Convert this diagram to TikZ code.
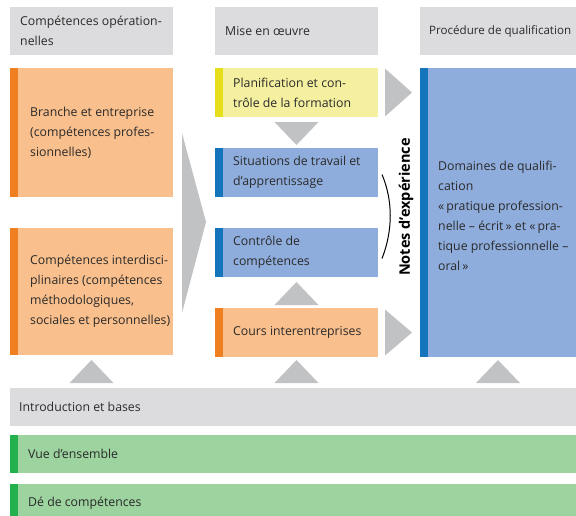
\documentclass[tikz,border=0pt]{standalone}
\usepackage{fontspec}
\setmainfont{Open Sans}
\usetikzlibrary{fit}
\definecolor{hdrgray}{HTML}{DCDCDE}
\definecolor{peach}{HTML}{F9BF8C}
\definecolor{orangeacc}{HTML}{F07F22}
\definecolor{yellowfill}{HTML}{F4F0A0}
\definecolor{yellowacc}{HTML}{E5DE19}
\definecolor{bluefill}{HTML}{8FADDC}
\definecolor{blueacc}{HTML}{1475BC}
\definecolor{greenfill}{HTML}{9DD39E}
\definecolor{greenacc}{HTML}{22B14C}
\definecolor{arrowgray}{HTML}{C1C2C4}
\definecolor{txt}{HTML}{2A2A2A}
\tikzset{
  box/.style={draw=none, fill=#1, inner sep=0pt, outer sep=0pt},
  lbl/.style={anchor=west, align=left, inner sep=0pt, text=txt, font=\fontsize{12.3}{20}\selectfont},
  tri/.style={fill=arrowgray},
}
\begin{document}
\begin{tikzpicture}[x=1pt,y=-1pt]
\useasboundingbox (0,0) rectangle (576,515);
% headers
\node[box=hdrgray, fit={(10,7) (173,55)}] (hL) {};
\node[box=hdrgray, fit={(215,7) (378,55)}] (hM) {};
\node[box=hdrgray, fit={(420,7) (576,55)}] (hR) {};
\node[lbl] (thL) at ([xshift=10pt]hL.west) {Compétences opération-\\nelles};
\node[lbl] (thM) at ([xshift=10pt]hM.west) {Mise en œuvre};
\node[lbl, font=\fontsize{11.6}{20}\selectfont] (thR) at ([xshift=9pt]hR.west) {Procédure de qualification};
% left column
\node[box=peach, fit={(10,68) (173,197)}] (oA) {};
\node[box=peach, fit={(10,228) (173,355)}] (oB) {};
\fill[orangeacc] (oA.north west) rectangle ([xshift=8pt]oA.south west);
\fill[orangeacc] (oB.north west) rectangle ([xshift=8pt]oB.south west);
\node[lbl] (toA) at ([xshift=20pt]oA.west) {Branche et entreprise\\(compétences profes-\\sionnelles)};
\node[lbl] (toB) at ([xshift=20pt]oB.west) {Compétences interdisci-\\plinaires (compétences\\méthodologiques,\\sociales et personnelles)};
% middle column
\node[box=yellowfill, fit={(215,68) (378,117)}] (plan) {};
\node[box=bluefill, fit={(215,148) (378,197)}] (sit) {};
\node[box=bluefill, fit={(215,228) (378,277)}] (ctl) {};
\node[box=peach, fit={(215,308) (378,357)}] (cours) {};
\fill[yellowacc] (plan.north west) rectangle ([xshift=8pt]plan.south west);
\fill[blueacc] (sit.north west) rectangle ([xshift=8pt]sit.south west);
\fill[blueacc] (ctl.north west) rectangle ([xshift=8pt]ctl.south west);
\fill[orangeacc] (cours.north west) rectangle ([xshift=8pt]cours.south west);
\node[lbl] (tplan) at ([xshift=18pt]plan.west) {Planification et con-\\trôle de la formation};
\node[lbl] (tsit) at ([xshift=18pt]sit.west) {Situations de travail et\\d’apprentissage};
\node[lbl] (tctl) at ([xshift=18pt]ctl.west) {Contrôle de\\compétences};
\node[lbl] (tcours) at ([xshift=18pt]cours.west) {Cours interentreprises};
% right column
\node[box=bluefill, fit={(420,68) (576,357)}] (dom) {};
\fill[blueacc] (dom.north west) rectangle ([xshift=8pt]dom.south west);
\node[lbl] (tdom) at ([xshift=18pt,yshift=-3pt]dom.west) {Domaines de qualifi-\\cation\\«\,pratique profession-\\nelle – écrit\,» et «\,pra-\\tique professionnelle –\\oral\,»};
% bottom bands
\node[box=hdrgray, fit={(10,388) (576,426)}] (intro) {};
\node[box=greenfill, fit={(10,435) (576,473)}] (vue) {};
\node[box=greenfill, fit={(10,484) (576,522)}] (de) {};
\fill[greenacc] (vue.north west) rectangle ([xshift=8pt]vue.south west);
\fill[greenacc] (de.north west) rectangle ([xshift=8pt]de.south west);
\node[lbl] (tintro) at ([xshift=9pt]intro.west) {Introduction et bases};
\node[lbl] (tvue) at ([xshift=18pt]vue.west) {Vue d’ensemble};
\node[lbl] (tde) at (28,503) {Dé de compétences};
% arrows (triangles)
\fill[tri] (182,133) -- (206,222) -- (182,313) -- cycle;
\fill[tri] ([xshift=-22pt,yshift=-5pt]plan.south) -- ([xshift=22pt,yshift=-5pt]plan.south) -- ([yshift=3pt]sit.north) -- cycle;
\fill[tri] ([xshift=-22pt,yshift=3pt]cours.north) -- ([xshift=22pt,yshift=3pt]cours.north) -- ([yshift=-5pt]ctl.south) -- cycle;
\fill[tri] ([xshift=-22pt,yshift=5pt]intro.north -| cours.south) -- ([xshift=22pt,yshift=5pt]intro.north -| cours.south) -- ([yshift=-3pt]cours.south) -- cycle;
\fill[tri] ([xshift=-22pt,yshift=5pt]intro.north -| oB.south) -- ([xshift=22pt,yshift=5pt]intro.north -| oB.south) -- ([yshift=-5pt]oB.south) -- cycle;
\fill[tri] ([xshift=-22pt,yshift=5pt]intro.north -| dom.south) -- ([xshift=22pt,yshift=5pt]intro.north -| dom.south) -- ([yshift=-3pt]dom.south) -- cycle;
\fill[tri] ([xshift=7pt,yshift=24pt]plan.east) -- ([xshift=34pt]plan.east) -- ([xshift=7pt,yshift=-24pt]plan.east) -- cycle;
\fill[tri] ([xshift=7pt,yshift=23pt]cours.east) -- ([xshift=34pt]cours.east) -- ([xshift=7pt,yshift=-23pt]cours.east) -- cycle;
% bracket and note
\draw[line width=1pt, black] ([xshift=4pt,yshift=-2pt]sit.east) .. controls ([xshift=15pt,yshift=-28pt]sit.east) and ([xshift=15pt,yshift=22pt]ctl.east) .. ([xshift=4pt,yshift=-6pt]ctl.east);
\node[rotate=90, inner sep=0pt, text=black, font=\bfseries\fontsize{14.5}{16}\selectfont] (notes) at (406,207) {Notes d’expérience};
\end{tikzpicture}
\end{document}
